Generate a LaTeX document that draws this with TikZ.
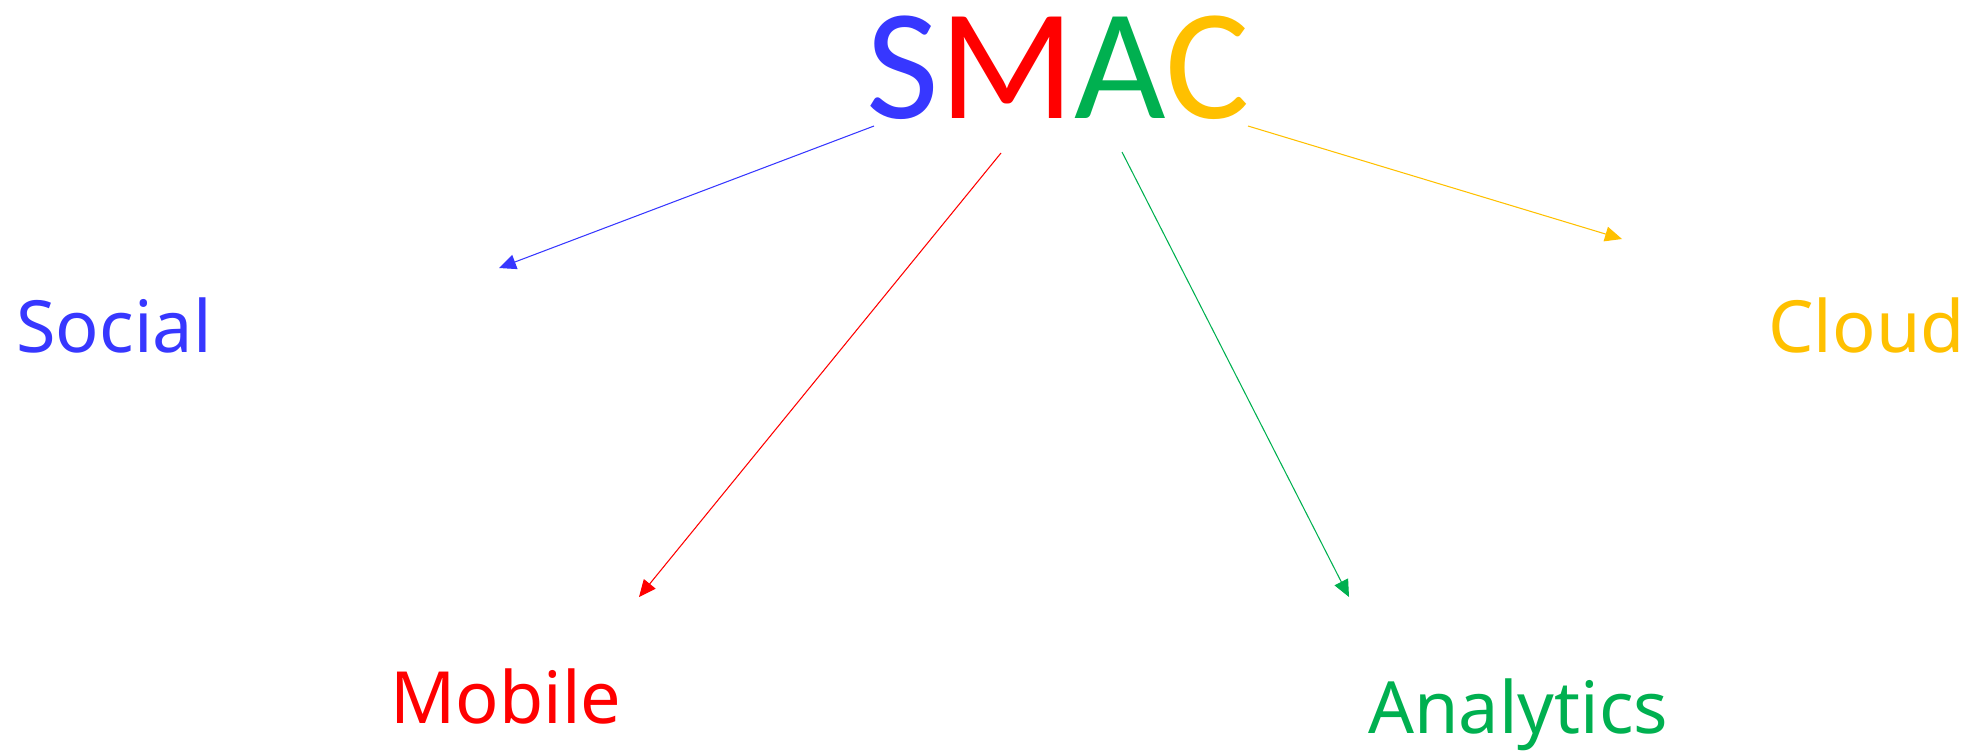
\documentclass[tikz,border=0pt]{standalone}
\usepackage{fontspec}
\setmainfont{Noto Sans}
\newfontfamily\smacfont{Carlito}
\usepackage{tikz}
\usetikzlibrary{arrows.meta}
\definecolor{smacblue}{RGB}{55,55,255}
\definecolor{smacred}{RGB}{255,0,0}
\definecolor{smacgreen}{RGB}{0,176,80}
\definecolor{smacyellow}{RGB}{255,192,0}

\begin{document}
\begin{tikzpicture}[
  x=0.02cm, y=-0.02cm,
  every node/.style={inner sep=0pt,anchor=base west,font=\fontsize{41}{41}\selectfont},
  link/.style={line width=0.6pt,-{Triangle[length=0.34cm,width=0.3cm]}}
]
  \useasboundingbox (0,0) rectangle (1966,751);

  \node[font=\smacfont\fontsize{90}{90}\selectfont] (smac) at (866,118)
    {\textcolor{smacblue}{S}\textcolor{smacred}{M}\textcolor{smacgreen}{A}\textcolor{smacyellow}{C}};

  \node[smacblue]   (social)    at (16,352)  {Social};
  \node[smacred]    (mobile)    at (390,723) {Mobile};
  \node[smacgreen]  (analytics) at (1368,733) {Analytics};
  \node[smacyellow] (cloud)     at (1768,352) {Cloud};

  % start and end points of the arrows
  \coordinate (s0) at (874,126);  \coordinate (s1) at (499,268);
  \coordinate (m0) at (1001,153); \coordinate (m1) at (639,597);
  \coordinate (a0) at (1122,152); \coordinate (a1) at (1349,597);
  \coordinate (c0) at (1248,126); \coordinate (c1) at (1622,239);

  \draw[link,smacblue]   (s0) -- (s1);
  \draw[link,smacred]    (m0) -- (m1);
  \draw[link,smacgreen]  (a0) -- (a1);
  \draw[link,smacyellow] (c0) -- (c1);
\end{tikzpicture}
\end{document}
